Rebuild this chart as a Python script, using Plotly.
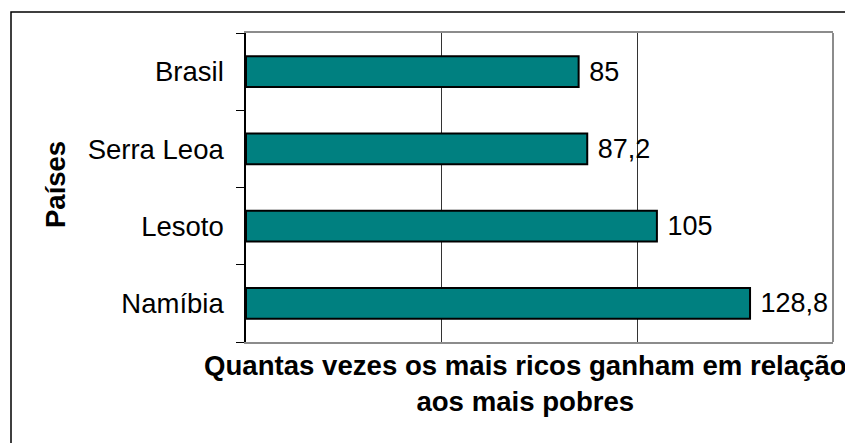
import plotly.graph_objects as go

# data (bottom to top, as plotly puts the first category at the bottom)
paises = ['Namíbia', 'Lesoto', 'Serra Leoa', 'Brasil']
vezes = [128.8, 105, 87.2, 85]
rotulos = ['\u00a0' + ('%g' % v).replace('.', ',') for v in vezes]

FONT = 'Liberation Sans, Arial, sans-serif'

# the page body has an 8px margin, so work in figure pixels = screen pixels - 8
OFF = 8
W, H = 853, 443
L, T = 246 - OFF, 33 - OFF
R, B = W - (833 - OFF), H - (342 - OFF)
pw, ph = W - L - R, H - T - B


def px(x):
    return (x - OFF - L) / pw


def py(y):
    return (H - B - (y - OFF)) / ph


fig = go.Figure(go.Bar(
    y=paises, x=vezes, orientation='h',
    marker=dict(color='#008080', line=dict(color='black', width=2)),
    text=rotulos, textposition='outside', cliponaxis=False,
    textfont=dict(size=27, color='black', family=FONT),
))

fig.update_layout(
    width=W, height=H,
    margin=dict(l=L, r=R, t=T, b=B, pad=0),
    paper_bgcolor='white', plot_bgcolor='white',
    showlegend=False, bargap=0.6,
    font=dict(family=FONT, color='black'),
)

fig.update_xaxes(
    range=[0, 150], dtick=50, showticklabels=False, ticks='',
    showgrid=True, gridcolor='#333333', gridwidth=1, zeroline=False,
    showline=True, linecolor='#8c8c8c', linewidth=2, mirror=True,
)
fig.update_yaxes(
    showline=True, linecolor='black', linewidth=1.5,
    ticks='outside', tickson='boundaries', ticklen=8, tickcolor='black', tickwidth=1,
    tickfont=dict(size=27.5, color='black', family=FONT), ticklabelstandoff=15,
    showgrid=False,
)

# right border of plot area (gray) and outer chart frame (black)
fig.add_shape(type='line', xref='paper', yref='paper', x0=1, x1=1, y0=0, y1=1,
              line=dict(color='#8c8c8c', width=2))
fig.add_shape(type='rect', xref='paper', yref='paper',
              x0=px(11), x1=px(880), y0=py(12), y1=py(480),
              line=dict(color='black', width=1.5))

fig.add_annotation(
    text='<b>Quantas vezes os mais ricos ganham em relação<br>aos mais pobres</b>',
    xref='paper', yref='paper', x=px(525), y=py(348), xanchor='center', yanchor='top',
    showarrow=False, font=dict(size=27.6, color='black', family=FONT),
)
fig.add_annotation(
    text='<b>Países</b>', textangle=-90,
    xref='paper', yref='paper', x=px(55), y=py(185), xanchor='center', yanchor='middle',
    showarrow=False, font=dict(size=27.5, color='black', family=FONT),
)

fig.write_html('out.html')
